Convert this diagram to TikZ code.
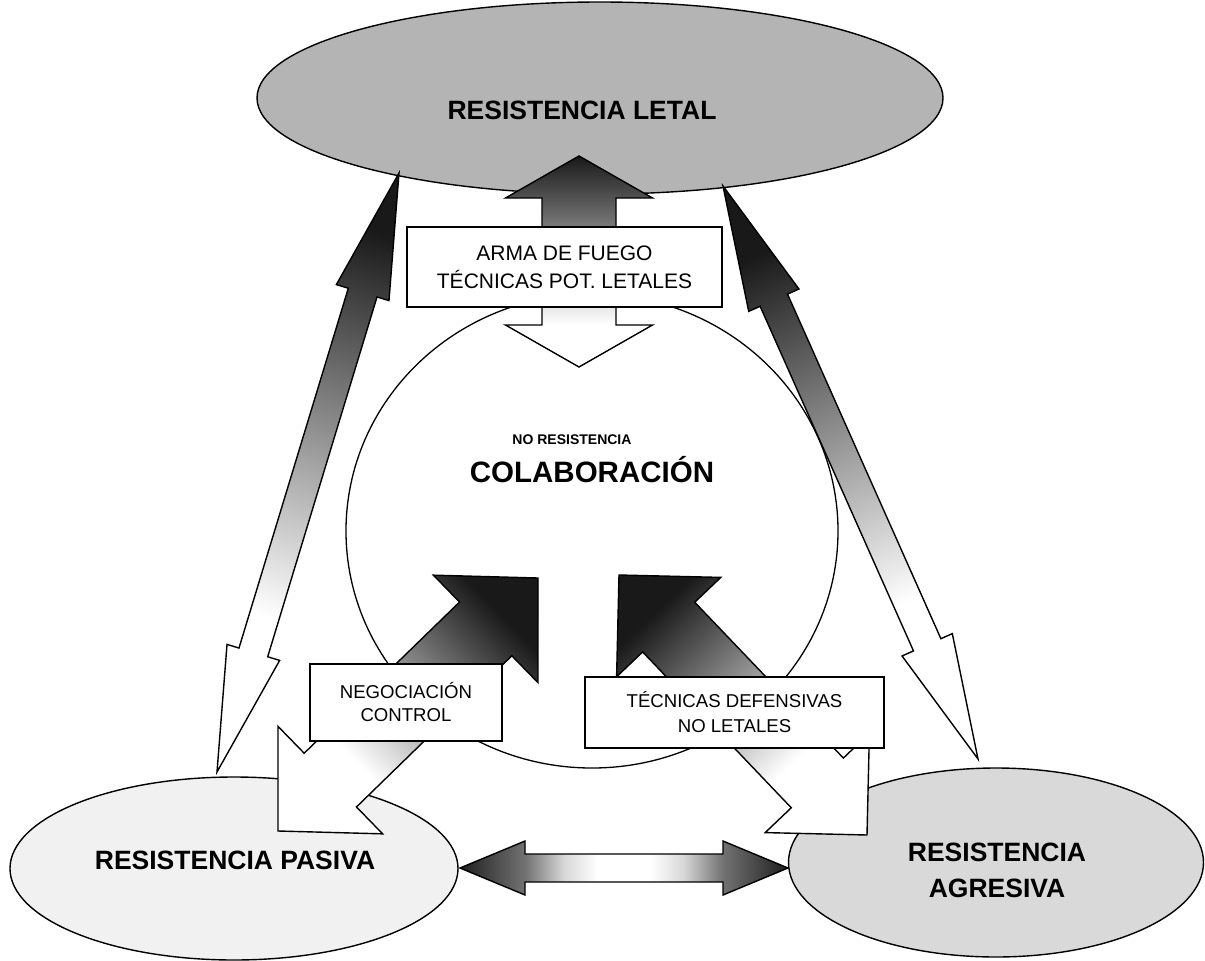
\documentclass[tikz,border=0pt]{standalone}
\usepackage{fontspec}
\setmainfont{Liberation Sans}
\usetikzlibrary{shapes.geometric,calc}

\definecolor{letalgray}{HTML}{B4B4B4}
\definecolor{pasivagray}{HTML}{F1F1F1}
\definecolor{agresivagray}{HTML}{D9D9D9}

% dark at the top end, white towards the bottom end
\pgfdeclareverticalshading{fadeup}{100bp}{color(0bp)=(white); color(35bp)=(white); color(75bp)=(black!90); color(100bp)=(black!90)}
% dark at both ends, white in the middle
\pgfdeclarehorizontalshading{fadeboth}{100bp}{color(0bp)=(black!88); color(25bp)=(black!88); color(35bp)=(black!55); color(41bp)=(black!15); color(46bp)=(white); color(54bp)=(white); color(59bp)=(black!15); color(65bp)=(black!55); color(75bp)=(black!88); color(100bp)=(black!88)}

% double-headed block arrow between two named points
% #2,#3 tips; #4 shaft half width; #5 head half width; #6 head length
\newcommand\blockarrow[6][]{%
  \coordinate (ba) at ($(#2)!#6!(#3)$);
  \coordinate (bb) at ($(#3)!#6!(#2)$);
  \path[#1] (#2)
    -- ($(ba)!#5!90:(#3)$) -- ($(ba)!#4!90:(#3)$)
    -- ($(bb)!#4!-90:(#2)$) -- ($(bb)!#5!-90:(#2)$)
    -- (#3)
    -- ($(bb)!#5!90:(#2)$) -- ($(bb)!#4!90:(#2)$)
    -- ($(ba)!#4!-90:(#3)$) -- ($(ba)!#5!-90:(#3)$)
    -- cycle;}

\begin{document}
\begin{tikzpicture}[x=1pt,y=-1pt,
  zone/.style={ellipse, draw=black, line width=1.4pt, inner sep=0pt},
  arrowline/.style={shade, draw=black, line width=1.4pt, line join=miter},
  labelbox/.style={draw=black, fill=white, line width=1.3pt, inner sep=0pt, align=center},
  title/.style={font=\bfseries\fontsize{26.5}{36}\selectfont, inner sep=0pt, align=center}]
\useasboundingbox (0,0) rectangle (1205,961);

% the four states
\node[zone, fill=letalgray, minimum width=686pt, minimum height=192pt] (letal) at (600,98) {};
\node[zone, fill=pasivagray, minimum width=448pt, minimum height=183pt] (pasiva) at (234,868.5) {};
\node[zone, fill=agresivagray, minimum width=415pt, minimum height=189pt] (agresiva) at (996,862.5) {};
\node[zone, fill=white, line width=1.3pt, minimum width=492pt, minimum height=474pt] (colab) at (592,531) {};

% arrow end points
\coordinate (vtop) at (579,156);  \coordinate (vbot) at (579,367);
\coordinate (ltop) at (399,173);  \coordinate (lbot) at (217,772);
\coordinate (rtop) at (723,186);  \coordinate (rbot) at (978,759);
\coordinate (nIn)  at (538,578);  \coordinate (nOut) at (278,831);
\coordinate (dIn)  at (619,575);  \coordinate (dOut) at (867,835);
\coordinate (hL)   at (460,868);  \coordinate (hR)   at (788,868);

% block arrows
\blockarrow[arrowline, shading=fadeup]{vtop}{vbot}{37pt}{73.5pt}{42pt}
\blockarrow[arrowline, shading=fadeup, shading angle=-17]{ltop}{lbot}{15pt}{27.5pt}{125pt}
\blockarrow[arrowline, shading=fadeup, shading angle=24]{rtop}{rbot}{15pt}{27.5pt}{125pt}
\blockarrow[arrowline, shading=fadeup, shading angle=-46]{nIn}{nOut}{37.5pt}{75pt}{73pt}
\blockarrow[arrowline, shading=fadeup, shading angle=44]{dIn}{dOut}{36pt}{72pt}{72pt}
\blockarrow[arrowline, shading=fadeboth]{hL}{hR}{14pt}{27pt}{65pt}

% labels of the transitions
\node[labelbox, minimum width=315pt, minimum height=80pt, font=\fontsize{21}{28}\selectfont] (fuego) at (564.5,267) {ARMA DE FUEGO\\TÉCNICAS POT. LETALES};
\node[labelbox, minimum width=192pt, minimum height=77pt, font=\fontsize{18.6}{23}\selectfont] (negoc) at (406,702.5) {NEGOCIACIÓN\\CONTROL};
\node[labelbox, minimum width=299pt, minimum height=71pt, font=\fontsize{18.6}{25}\selectfont] (defens) at (734.5,712.5) {TÉCNICAS DEFENSIVAS\\NO LETALES};

% state names
\node[title] (letaltxt) at (582,110) {RESISTENCIA LETAL};
\node[title] (pasivatxt) at (235,860) {RESISTENCIA PASIVA};
\node[title] (agresivatxt) at (997,870) {RESISTENCIA\\AGRESIVA};
\node[font=\bfseries\fontsize{14}{16}\selectfont, inner sep=0pt] (nores) at (572,440) {NO RESISTENCIA};
\node[font=\bfseries\fontsize{29.5}{34}\selectfont, inner sep=0pt] (colabtxt) at (592,470) {COLABORACIÓN};
\end{tikzpicture}
\end{document}
